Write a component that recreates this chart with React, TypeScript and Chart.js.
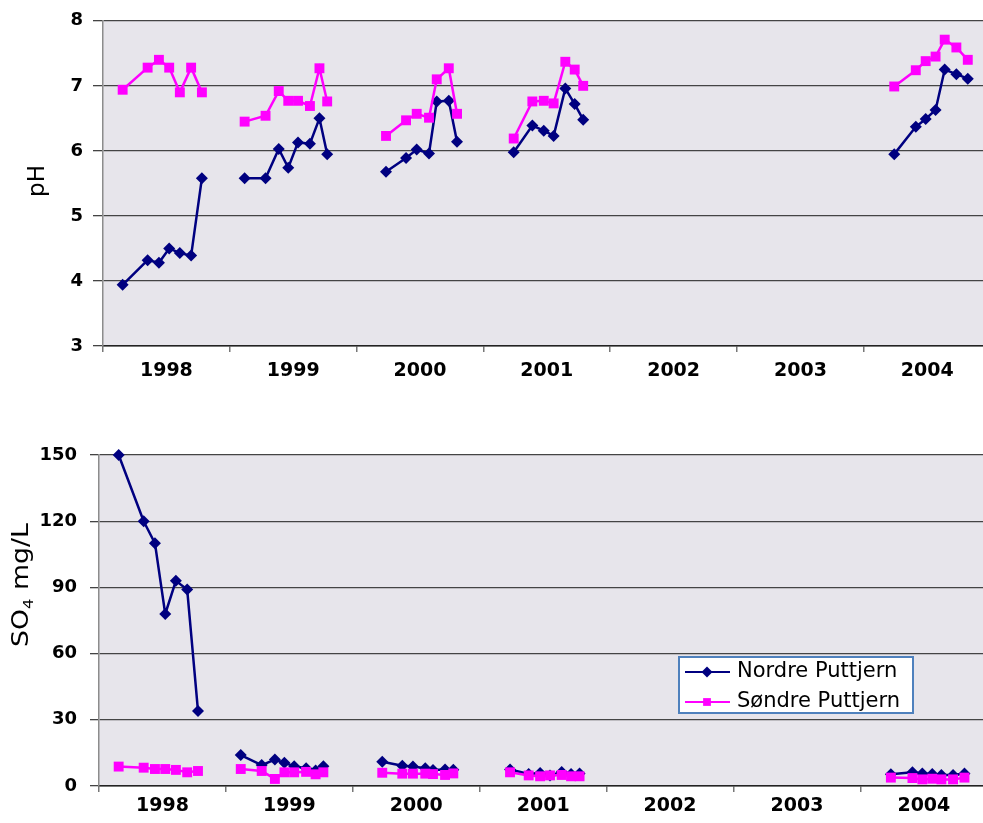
import React, { useEffect, useRef } from 'react';
import { Chart, registerables } from 'chart.js';

Chart.register(...registerables);

// Sampling dates as decimal years (same campaigns for pH and SO4)
const sampleDates = [
  1998.155, 1998.352, 1998.441, 1998.522, 1998.606, 1998.695, 1998.78,
  1999.117, 1999.282, 1999.386, 1999.461, 1999.538, 1999.632, 1999.707, 1999.768,
  2000.232, 2000.39, 2000.474, 2000.571, 2000.632, 2000.727, 2000.792,
  2001.239, 2001.386, 2001.476, 2001.554, 2001.646, 2001.72, 2001.787,
  2004.24, 2004.41, 2004.488, 2004.566, 2004.638, 2004.73, 2004.82,
];

const seriesNames = ['Nordre Puttjern', 'Søndre Puttjern'];
const yearLabels = ['1998', '1999', '2000', '2001', '2002', '2003', '2004'];

const phNordre = [
  3.94, 4.32, 4.28, 4.5, 4.43, 4.39, 5.58,
  5.58, 5.58, 6.03, 5.74, 6.13, 6.11, 6.5, 5.95,
  5.68, 5.89, 6.02, 5.96, 6.76, 6.77, 6.14,
  5.98, 6.39, 6.31, 6.23, 6.96, 6.72, 6.48,
  5.95, 6.37, 6.49, 6.63, 7.25, 7.18, 7.11,
];
const phSondre = [
  6.94, 7.28, 7.4, 7.28, 6.9, 7.28, 6.9,
  6.45, 6.54, 6.92, 6.77, 6.77, 6.69, 7.27, 6.76,
  6.23, 6.47, 6.57, 6.51, 7.1, 7.27, 6.57,
  6.19, 6.76, 6.77, 6.73, 7.37, 7.25, 7.0,
  6.99, 7.24, 7.38, 7.45, 7.71, 7.59, 7.4,
];
const so4Nordre = [
  150, 120, 110, 78, 93, 89, 34,
  14, 9.5, 12, 10.5, 9, 8, 7, 9,
  11, 9.2, 8.8, 8, 7.3, 7.5, 7.4,
  7.5, 5.4, 5.9, 4.8, 6.3, 5.4, 5.7,
  5.3, 6.2, 5.7, 5.4, 5.0, 5.0, 5.7,
];
const so4Sondre = [
  8.8, 8.3, 7.7, 7.7, 7.3, 6.2, 6.8,
  7.7, 6.8, 3.2, 6.2, 6.2, 6.4, 5.3, 6.2,
  6.0, 5.6, 5.6, 5.6, 5.4, 5.0, 5.7,
  6.2, 4.8, 4.4, 4.8, 5.0, 4.4, 4.4,
  3.8, 3.6, 3.0, 3.3, 3.0, 3.0, 3.8,
];

const phTicks = [3, 4, 5, 6, 7, 8];
const so4Ticks = [0, 30, 60, 90, 120, 150];

const NAVY = '#000080';
const MAGENTA = '#FF00FF';
const PLOT_BG = '#E7E5EB';
const GRID = '#444444';

// Points per campaign; a null point between years breaks the line
function seasonPoints(values: number[]) {
  const pts: { x: number; y: number | null }[] = [];
  sampleDates.forEach((d, i) => {
    if (i > 0 && Math.floor(d) !== Math.floor(sampleDates[i - 1])) {
      pts.push({ x: (d + sampleDates[i - 1]) / 2, y: null });
    }
    pts.push({ x: d, y: values[i] });
  });
  return pts;
}

const plotBackground = {
  id: 'plotBackground',
  beforeDraw(chart: any, _args: any, opts: any) {
    const { ctx, chartArea: a } = chart;
    ctx.save();
    ctx.fillStyle = opts.color;
    ctx.fillRect(a.left, a.top, a.right - a.left, a.bottom - a.top);
    ctx.restore();
  },
};

// Rotated y-axis title, supports a subscript part
const sideTitle = {
  id: 'sideTitle',
  afterDraw(chart: any, _args: any, opts: any) {
    if (!opts.parts) return;
    const { ctx } = chart;
    const size = opts.size;
    const mainFont = `${size}px "DejaVu Sans"`;
    const subFont = `${Math.round(size * 0.62)}px "DejaVu Sans"`;
    ctx.save();
    const widths = opts.parts.map((p: any) => {
      ctx.font = p.sub ? subFont : mainFont;
      return ctx.measureText(p.text).width;
    });
    const total = widths.reduce((s: number, w: number) => s + w, 0);
    const sx = opts.length ? opts.length / total : 1;
    ctx.translate(opts.x, opts.y);
    ctx.rotate(-Math.PI / 2);
    ctx.scale(sx, 1);
    ctx.fillStyle = '#000';
    ctx.textBaseline = 'middle';
    ctx.textAlign = 'left';
    let x = -total / 2;
    opts.parts.forEach((p: any, i: number) => {
      ctx.font = p.sub ? subFont : mainFont;
      ctx.fillText(p.text, x, p.sub ? size * 0.3 : 0);
      x += widths[i];
    });
    ctx.restore();
  },
};

function drawMarker(ctx: CanvasRenderingContext2D, style: string, x: number, y: number, r: number) {
  ctx.beginPath();
  if (style === 'rectRot') {
    ctx.moveTo(x, y - r);
    ctx.lineTo(x + r, y);
    ctx.lineTo(x, y + r);
    ctx.lineTo(x - r, y);
    ctx.closePath();
  } else {
    const h = r * Math.SQRT1_2;
    ctx.rect(x - h, y - h, 2 * h, 2 * h);
  }
  ctx.fill();
}

// Boxed legend drawn inside the plot area
const boxLegend = {
  id: 'boxLegend',
  afterDraw(chart: any, _args: any, opts: any) {
    if (!opts.display) return;
    const { ctx } = chart;
    ctx.save();
    ctx.fillStyle = '#FFFFFF';
    ctx.fillRect(opts.left, opts.top, opts.width, opts.height);
    ctx.strokeStyle = '#4F81BD';
    ctx.lineWidth = 2;
    ctx.strokeRect(opts.left, opts.top, opts.width, opts.height);
    chart.data.datasets.forEach((ds: any, i: number) => {
      const cy = opts.top + opts.firstRow + i * opts.rowGap;
      ctx.strokeStyle = ds.borderColor;
      ctx.lineWidth = 2;
      ctx.beginPath();
      ctx.moveTo(opts.left + 6, cy);
      ctx.lineTo(opts.left + 51, cy);
      ctx.stroke();
      ctx.fillStyle = ds.borderColor;
      drawMarker(ctx, ds.pointStyle, opts.left + 28, cy, 5.5);
      ctx.fillStyle = '#000';
      ctx.font = '21px "DejaVu Sans"';
      ctx.textBaseline = 'middle';
      ctx.fillText(ds.label, opts.left + 58, cy);
    });
    ctx.restore();
  },
};

type ChartSpec = {
  nordre: number[];
  sondre: number[];
  yTicks: number[];
  xMax: number;
  axisWidth: number;
  xAxisHeight: number;
  padTop: number;
  yTickPad: number;
  yTickLen: number;
  xTickPad: number;
  title: any;
  legend: any;
};

function buildConfig(spec: ChartSpec): any {
  const yearTicks: { value: number }[] = [];
  yearLabels.forEach((y) => {
    const v = Number(y);
    yearTicks.push({ value: v });
    yearTicks.push({ value: v + 0.5 });
  });
  return {
    type: 'line',
    data: {
      datasets: [
        {
          label: seriesNames[0],
          data: seasonPoints(spec.nordre),
          borderColor: NAVY,
          backgroundColor: NAVY,
          borderWidth: 2.5,
          pointStyle: 'rectRot',
          pointRadius: 6,
          pointBorderWidth: 0,
          pointHoverRadius: 6,
          spanGaps: false,
          clip: false,
          order: 1,
        },
        {
          label: seriesNames[1],
          data: seasonPoints(spec.sondre),
          borderColor: MAGENTA,
          backgroundColor: MAGENTA,
          borderWidth: 2.5,
          pointStyle: 'rect',
          pointRadius: 7,
          pointBorderWidth: 0,
          pointHoverRadius: 7,
          spanGaps: false,
          clip: false,
          order: 0,
        },
      ],
    },
    options: {
      animation: false,
      responsive: false,
      devicePixelRatio: 1,
      layout: {
        autoPadding: false,
        padding: { top: spec.padTop, left: 0, right: 0, bottom: 0 },
      },
      plugins: {
        legend: { display: false },
        tooltip: { enabled: false },
        plotBackground: { color: PLOT_BG },
        sideTitle: spec.title,
        boxLegend: spec.legend,
      },
      scales: {
        x: {
          type: 'linear',
          min: 1998,
          max: spec.xMax,
          afterBuildTicks: (scale: any) => {
            scale.ticks = yearTicks.map((t) => ({ value: t.value }));
          },
          afterFit: (scale: any) => {
            scale.height = spec.xAxisHeight;
            scale.paddingLeft = 0;
            scale.paddingRight = 0;
          },
          grid: {
            drawOnChartArea: false,
            drawTicks: true,
            tickLength: 6,
            lineWidth: 1.5,
            tickColor: (ctx: any) =>
              ctx.tick && Number.isInteger(ctx.tick.value) ? '#777777' : 'rgba(0,0,0,0)',
          },
          border: { color: '#222222', width: 1.5 },
          ticks: {
            autoSkip: false,
            maxRotation: 0,
            minRotation: 0,
            padding: spec.xTickPad,
            color: '#000',
            font: { family: '"DejaVu Sans"', size: 19, weight: 'bold' },
            callback: (v: number) => (Number.isInteger(v) ? '' : String(Math.floor(v))),
          },
        },
        y: {
          type: 'linear',
          min: spec.yTicks[0],
          max: spec.yTicks[spec.yTicks.length - 1],
          afterBuildTicks: (scale: any) => {
            scale.ticks = spec.yTicks.map((v) => ({ value: v }));
          },
          afterFit: (scale: any) => {
            scale.width = spec.axisWidth;
          },
          grid: {
            color: GRID,
            lineWidth: 1.3,
            drawTicks: true,
            tickLength: spec.yTickLen,
            tickColor: GRID,
          },
          border: { color: '#8C8C8C', width: 1.5 },
          ticks: {
            padding: spec.yTickPad,
            color: '#000',
            font: { family: '"DejaVu Sans"', size: 18, weight: 'bold' },
          },
        },
      },
    },
    plugins: [plotBackground, sideTitle, boxLegend],
  };
}

function ChartCanvas({ spec, top, height }: { spec: ChartSpec; top: number; height: number }) {
  const ref = useRef<HTMLCanvasElement | null>(null);
  useEffect(() => {
    if (!ref.current) return;
    const chart = new Chart(ref.current, buildConfig(spec));
    return () => chart.destroy();
  }, [spec]);
  return (
    <canvas
      ref={ref}
      width={983}
      height={height}
      style={{ position: 'absolute', left: 0, top, width: 983, height }}
    />
  );
}

const phSpec: ChartSpec = {
  nordre: phNordre,
  sondre: phSondre,
  yTicks: phTicks,
  xMax: 2004.94,
  axisWidth: 103,
  xAxisHeight: 64,
  padTop: 16,
  yTickPad: 10,
  yTickLen: 10,
  xTickPad: 8,
  title: { parts: [{ text: 'pH' }], x: 38, y: 181, size: 23 },
  legend: { display: false },
};

const so4Spec: ChartSpec = {
  nordre: so4Nordre,
  sondre: so4Sondre,
  yTicks: so4Ticks,
  xMax: 2004.966,
  axisWidth: 99,
  xAxisHeight: 37,
  padTop: 45,
  yTickPad: 13,
  yTickLen: 9,
  xTickPad: 3,
  title: {
    parts: [{ text: 'SO' }, { text: '4', sub: true }, { text: ' mg/L' }],
    x: 22,
    y: 175,
    size: 23,
    length: 124,
  },
  legend: { display: true, left: 679, top: 247, width: 234, height: 56, firstRow: 15, rowGap: 30 },
};

export default function App() {
  return (
    <div
      style={{
        position: 'absolute',
        left: 0,
        top: 0,
        width: 983,
        height: 823,
        background: '#FFFFFF',
        overflow: 'hidden',
      }}
    >
      <ChartCanvas spec={phSpec} top={0} height={410} />
      <ChartCanvas spec={so4Spec} top={410} height={413} />
    </div>
  );
}
